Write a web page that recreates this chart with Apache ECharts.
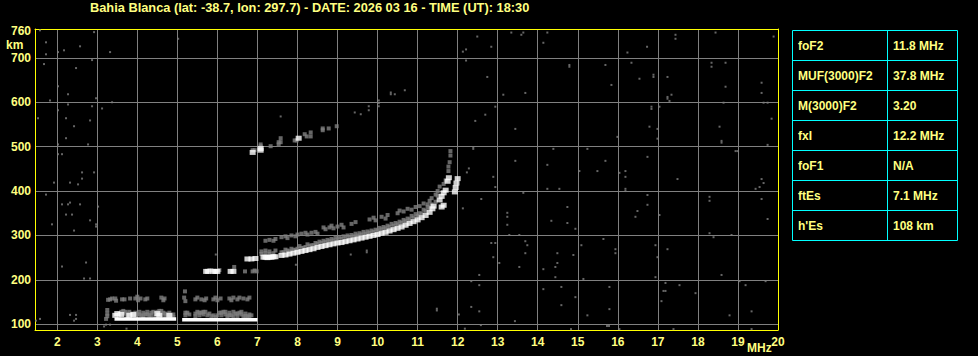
<!DOCTYPE html>
<html>
<head>
<meta charset="utf-8">
<script src="https://cdn.jsdelivr.net/npm/echarts@6/dist/echarts.min.js"></script>
<style>
html,body{margin:0;padding:0;background:#000;}
#c{width:978px;height:356px;}
</style>
</head>
<body>
<div id="c"></div>
<script>
// ---------- data ----------
const titleText = "Bahia Blanca (lat: -38.7, lon: 297.7) - DATE: 2026 03 16 - TIME (UT): 18:30";
const freqTicks = [2,3,4,5,6,7,8,9,10,11,12,13,14,15,16,17,18,19,20];
const freqGrid = [2,3,4,5,6,7,8,9,10,11,12,13,14,15,16,17,18,19];
const heightTicks = [100,200,300,400,500,600,700,760];
const heightGrid = [100,200,300,400,500,600,700];
const tableLabels = ["foF2","MUF(3000)F2","M(3000)F2","fxI","foF1","ftEs","h'Es"];
const tableValues = ["11.8 MHz","37.8 MHz","3.20","12.2 MHz","N/A","7.1 MHz","108 km"];

// strong (white) E / Es echo segments
const esLine1 = [[3.43,112],[4.97,112]];
const esLine2 = [[5.12,110],[7.0,110]];

// strong (white) echo pixels
const whiteEchoes = [
  [3.45,120],[3.5,124],[3.6,122],[3.8,120],[3.9,122],[4.5,124],[4.55,120],[4.8,120],
  [5.72,219],[5.77,219],[5.9,219],[5.95,219],[6.0,219],[6.33,219],[6.4,219],
  [6.75,247],[6.85,247],[6.95,248],
  [7.15,251],[7.2,251],[7.25,250],[7.3,251],[7.35,251],[7.4,252],[7.45,252],
  [7.6,255],[7.7,256],[7.8,258],[7.9,260],[8.0,262],[8.1,264],[8.2,266],[8.3,268],[8.4,270],[8.5,273],
  [8.6,275],[8.7,277],[8.8,279],[8.9,281],[9.0,283],[9.1,284],[9.2,286],[9.3,288],[9.4,290],[9.5,292],
  [9.6,294],[9.7,296],[9.8,298],[9.9,300],[10.0,302],[10.1,305],[10.2,307],[10.3,310],[10.4,313],[10.5,316],
  [10.6,319],[10.7,323],[10.8,327],[10.9,331],[11.0,335],[11.1,340],[11.2,345],[11.3,352],[11.37,360],[11.4,366],
  [11.55,380],[11.6,388],[11.65,396],[11.7,402],[11.75,422],[11.78,430],
  [11.6,364],[11.65,368],[11.93,398],[11.95,408],[11.97,418],[12.0,428],
  [7.08,496],[7.08,492],[6.88,487],[8.03,519]
];

// weak (grey) echo pixels of the traces
const greyEchoes = [
  [3.22,112],[3.25,118],[3.25,124],[3.25,132],[3.27,155],[3.37,158],[3.47,153],
  [3.55,124],[3.6,128],[3.65,124],[3.7,128],[3.75,124],[3.8,128],
  [3.9,120],[3.95,126],[4.0,122],[4.05,128],[4.1,120],[4.15,126],[4.2,122],[4.25,128],[4.3,120],[4.35,126],
  [4.45,118],[4.5,128],[4.55,130],[4.6,120],[4.65,126],[4.7,118],[4.75,122],[4.8,116],[4.85,120],[4.9,116],
  [3.55,118],[3.65,130],[3.75,118],[3.85,124],[3.95,118],[4.05,122],[4.15,118],[4.25,122],[4.35,120],
  [4.4,128],[4.5,118],[4.6,130],[4.7,124],[4.8,126],[4.9,122],
  [3.32,156],[3.45,158],[3.62,156],[3.68,156],[3.82,158],[3.95,158],[4.0,162],[4.02,154],[4.08,158],
  [4.2,156],[4.25,158],[4.6,160],[4.65,154],[4.68,158],
  [5.2,120],[5.25,126],[5.45,124],[5.5,128],[5.55,120],[5.6,126],[5.65,122],[5.7,128],[5.8,124],[5.9,120],
  [5.95,116],[6.05,126],[6.1,120],[6.15,128],[6.2,122],[6.25,118],[6.3,126],[6.35,120],[6.4,128],[6.45,124],
  [6.5,118],[6.55,126],[6.6,122],[6.65,118],[6.7,124],[6.75,118],[6.8,116],[6.85,120],
  [5.2,126],[5.3,122],[5.45,118],[5.55,126],[5.65,128],[5.75,120],[5.85,118],[6.0,120],[6.1,126],[6.2,128],
  [6.3,120],[6.4,118],[6.5,124],[6.6,128],[6.7,118],[6.8,122],
  [5.17,160],[5.2,152],[5.19,174],[5.45,156],[5.5,160],[5.6,156],[5.68,154],[5.72,158],[5.9,156],[5.95,160],
  [6.0,154],[6.08,158],[6.3,158],[6.35,154],[6.4,160],[6.5,156],[6.55,160],[6.65,158],[6.75,156],[6.8,160],
  [5.8,222],[5.85,222],[6.05,222],[6.42,229],[6.69,219],[6.88,219],[6.98,219],[6.93,221],
  [7.1,258],[7.1,264],[7.2,260],[7.2,266],[7.3,258],[7.3,264],[7.4,260],[7.45,266],
  [7.65,262],[7.7,268],[7.8,264],[7.85,270],[7.9,267],[8.0,270],[8.05,276],[8.1,272],[8.2,274],[8.25,280],
  [8.3,276],[8.4,278],[8.5,281],[8.55,286],[8.6,283],[8.7,285],[8.75,290],[8.8,287],[8.9,289],[9.0,291],
  [9.05,296],[9.1,292],[9.2,294],[9.3,296],[9.35,301],[9.4,298],[9.5,300],[9.55,305],[9.6,302],[9.7,304],
  [9.8,306],[9.85,311],[9.9,308],[10.0,311],[10.1,314],[10.15,319],[10.2,316],[10.3,319],[10.4,322],[10.45,328],
  [10.5,325],[10.6,328],[10.7,332],[10.75,338],[10.8,336],[10.9,340],[11.0,344],[11.05,350],[11.1,349],
  [11.2,355],[11.3,362],[11.35,370],[11.45,376],[11.5,390],
  [7.6,262],[7.75,266],[7.95,268],[8.15,272],[8.35,278],[8.45,283],[8.65,288],[8.85,292],[8.95,295],
  [9.15,298],[9.25,300],[9.45,304],[9.65,308],[9.75,309],[9.95,313],[10.05,317],[10.25,322],[10.35,326],
  [10.55,331],[10.65,335],[10.85,344],[10.95,348],[11.15,358],[11.25,364],
  [7.2,288],[7.3,290],[7.4,288],[7.45,292],[7.6,296],[7.7,298],[7.75,294],[7.85,300],[7.95,298],[8.0,302],
  [8.1,304],[8.2,306],[8.25,302],[8.35,306],[8.45,308],[8.5,304],
  [8.65,318],[8.7,314],[8.8,318],[8.85,322],[8.9,316],[9.0,320],[9.1,324],[9.15,318],[9.35,326],[9.45,330],
  [9.8,336],[9.9,340],[9.95,334],[10.1,342],[10.2,338],[10.25,346],
  [10.5,350],[10.55,356],[10.65,354],[10.75,360],[10.85,358],[10.95,364],
  [11.05,366],[11.15,372],[11.25,370],[11.3,378],[11.35,384],
  [11.45,392],[11.5,400],[11.55,410],[11.65,416],[11.7,424],[11.77,445],[11.77,455],[11.8,465],[11.82,480],[11.82,490],
  [7.08,505],[7.08,501],[6.88,492],[6.93,492],[7.33,501],[7.53,510],[7.58,510],[7.53,505],[7.58,519],
  [7.93,514],[7.98,514],[8.18,528],[8.23,523],[8.33,532],[8.33,523],[8.63,541],[8.63,537],[8.78,541],[8.98,546]
];

// isolated noise pixels
const noisePoints = [
  [12.49,748],[12.84,725],[13.34,757],[13.59,752],[13.64,757],[14.24,757],[14.14,734],[16.24,712],[16.73,725],
  [17.44,752],[17.44,743],[18.44,757],[19.89,748],
  [14.79,684],[14.79,680],[15.69,684],[16.34,689],[18.34,689],[18.34,680],[18.69,689],[12.74,657],[13.69,621],
  [13.14,617],[15.84,639],[16.54,653],[16.89,662],[16.89,657],[17.24,657],[17.34,617],[17.24,612],[17.24,608],
  [17.29,603],[18.69,635],[19.59,644],[19.59,621],[18.64,599],[19.64,599],[19.74,599],
  [12.94,590],[12.69,572],[12.44,558],[13.44,540],[16.84,590],[16.84,585],[17.04,590],[16.79,545],[16.99,540],
  [15.99,522],[16.99,518],[18.54,545],[18.59,513],[18.59,509],[19.84,563],[19.74,504],
  [12.39,499],[12.39,495],[14.39,495],[15.24,495],[13.44,468],[14.24,459],[15.69,468],[15.04,445],[15.49,445],
  [16.04,441],[16.19,445],[16.19,432],[16.74,477],[17.49,427],[12.89,432],[12.94,409],[14.24,405],[14.54,405],
  [16.19,405],[16.19,400],[19.44,405],[19.54,409],[19.64,418],[19.59,427],[18.94,490],[18.99,490],
  [12.59,382],[13.64,396],[13.24,351],[13.24,342],[13.24,324],[13.29,301],[13.54,301],[14.34,333],[14.74,364],
  [14.74,328],[14.94,315],[16.49,355],[16.44,342],[16.74,391],[16.74,369],[17.04,346],[18.29,387],[18.29,378],
  [18.29,305],[18.39,296],[18.84,301],[19.59,382],[19.74,337],
  [12.84,283],[12.94,283],[12.89,251],[13.69,287],[13.74,278],[13.69,260],[13.04,238],[13.54,229],[12.54,211],
  [14.49,260],[14.49,238],[14.44,229],[14.14,224],[14.44,206],[14.89,256],[15.09,278],[15.64,292],[15.94,269],
  [15.94,260],[15.14,202],[16.94,278],[17.24,269],[16.99,251],[16.94,206],[18.59,211],
  [12.34,197],[12.54,188],[14.14,179],[14.59,184],[14.94,161],[14.59,143],[15.79,184],[15.79,134],[15.24,120],
  [17.19,193],[17.14,175],[17.19,175],[17.09,152],[17.54,188],[17.94,170],[18.79,120],[19.04,197],[19.19,188],
  [19.69,197],[19.34,129],[12.34,139],[12.54,129],
  [12.58,98],[13.43,107],[14.83,89],[15.73,96],[15.78,96],[16.04,89],[17.39,89],[19.34,89],
  [1.57,762],[1.72,735],[1.72,708],[2.02,713],[2.17,717],[2.57,726],[2.92,758],[3.32,713],[1.67,686],[2.47,677],
  [2.87,695],[2.02,636],[2.27,618],[2.27,595],[1.82,604],[1.52,564],[2.02,582],[2.22,564],[2.42,546],[2.82,559],
  [2.87,591],[2.97,609],[3.12,586],[3.37,600],[2.22,519],[2.02,505],[2.02,483],[2.12,483],[2.77,505],[1.92,419],
  [2.32,419],[2.52,415],[2.62,428],[2.62,442],[2.92,442],[1.72,392],[2.12,370],[2.27,370],[2.32,374],[2.57,370],
  [2.22,347],[2.37,347],[3.02,365],[2.82,334],[2.97,325],[2.97,320],[1.87,325],[2.42,311],[2.12,230],[2.72,239],
  [2.67,203],[2.82,203],[2.32,121],[2.47,121],[2.47,112],[2.42,108],[1.47,108],[1.57,112],
  [5.02,743],[12.13,714],[12.21,719],[12.21,694],
  [10.03,604],[10.03,598],[10.03,591],[9.78,591],[9.78,582],[9.43,577],[9.58,573],[10.33,622],[10.33,618],
  [10.43,618],[10.68,627],[7.58,568],
  [12.28,451],[12.23,442],[12.13,361],[5.96,257],[7.96,234],[9.33,257],[9.73,266],[9.73,262],
  [11.48,135],[11.48,131],[12.03,122],[12.18,90],[3.73,90],[3.22,99],[3.17,95],[3.32,99]
];

// ---------- chart ----------
const TXT = '#ffff80';
const FRAME = '#ffff00';
const FONT = '"Liberation Sans", Arial, sans-serif';
const chart = echarts.init(document.getElementById('c'), null, {renderer: 'svg', width: 978, height: 356});

const tableGraphics = [];
const tx0 = 792.5, tx1 = 957.5, tcol = 887.5, ty0 = 30.5, rowH = 30;
tableGraphics.push({type:'rect', shape:{x:tx0, y:ty0, width:tx1-tx0, height:rowH*tableLabels.length},
  style:{fill:'none', stroke:'#00ffff', lineWidth:1}});
tableGraphics.push({type:'line', shape:{x1:tcol, y1:ty0, x2:tcol, y2:ty0+rowH*tableLabels.length},
  style:{stroke:'#00ffff', lineWidth:1}});
tableLabels.forEach((lab, i) => {
  if (i > 0) {
    tableGraphics.push({type:'line', shape:{x1:tx0, y1:ty0+rowH*i, x2:tx1, y2:ty0+rowH*i},
      style:{stroke:'#00ffff', lineWidth:1}});
  }
  const cy = ty0 + rowH*i + rowH/2 + 0.5;
  tableGraphics.push({type:'text', x:798, y:cy, style:{text:lab, fill:TXT, font:'bold 12px '+FONT, verticalAlign:'middle', align:'left'}});
  tableGraphics.push({type:'text', x:893, y:cy, style:{text:tableValues[i], fill:TXT, font:'bold 12px '+FONT, verticalAlign:'middle', align:'left'}});
});

const frameAxis = {axisLine: {show: true, lineStyle: {color: FRAME, width: 1}}, axisTick: {show: false}, axisLabel: {show: false}, splitLine: {show: false}};

const option = {
  backgroundColor: '#000',
  animation: false,
  grid: {left: 35, top: 29, width: 743, height: 301, show: false, containLabel: false},
  xAxis: [{
    type: 'value', min: 1.445, max: 20, position: 'bottom',
    axisLine: {show: true, onZero: false, lineStyle: {color: FRAME, width: 1}},
    axisTick: {show: false, customValues: freqGrid},
    axisLabel: {customValues: freqTicks, color: TXT, fontWeight: 'bold', fontSize: 12, fontFamily: FONT, margin: 6, showMinLabel: true, showMaxLabel: true},
    splitLine: {show: true, lineStyle: {color: '#808080', width: 1}}
  }, Object.assign({type: 'value', min: 1.445, max: 20, position: 'top'}, frameAxis)],
  yAxis: [{
    type: 'value', min: 87, max: 765, position: 'left',
    axisLine: {show: true, onZero: false, lineStyle: {color: FRAME, width: 1}},
    axisTick: {show: false, customValues: heightGrid},
    axisLabel: {customValues: heightTicks, color: TXT, fontWeight: 'bold', fontSize: 12, fontFamily: FONT, margin: 4},
    splitLine: {show: true, lineStyle: {color: '#808080', width: 1}}
  }, Object.assign({type: 'value', min: 87, max: 765, position: 'right'}, frameAxis)],
  graphic: [
    {type:'text', x:90, y:7, style:{text:titleText, fill:TXT, font:'bold 12.8px '+FONT, verticalAlign:'middle'}},
    {type:'text', x:6, y:45, style:{text:'km', fill:TXT, font:'bold 12px '+FONT, verticalAlign:'middle'}},
    {type:'text', x:747, y:348, style:{text:'MHz', fill:TXT, font:'bold 12px '+FONT, verticalAlign:'middle'}}
  ].concat(tableGraphics),
  series: [
    {type:'scatter', data: noisePoints, symbol:'rect', symbolSize:[2,2], itemStyle:{color:'#808080'}, silent:true},
    {type:'scatter', data: greyEchoes, symbol:'rect', symbolSize:[4,4], itemStyle:{color:'#808080'}, silent:true},
    {type:'line', data: esLine1, symbol:'none', lineStyle:{color:'#ffffff', width:3.5}, silent:true},
    {type:'line', data: esLine2, symbol:'none', lineStyle:{color:'#ffffff', width:3.5}, silent:true},
    {type:'scatter', data: whiteEchoes, symbol:'rect', symbolSize:[6,5], itemStyle:{color:'#ffffff'}, silent:true}
  ]
};
chart.setOption(option);
</script>
</body>
</html>
